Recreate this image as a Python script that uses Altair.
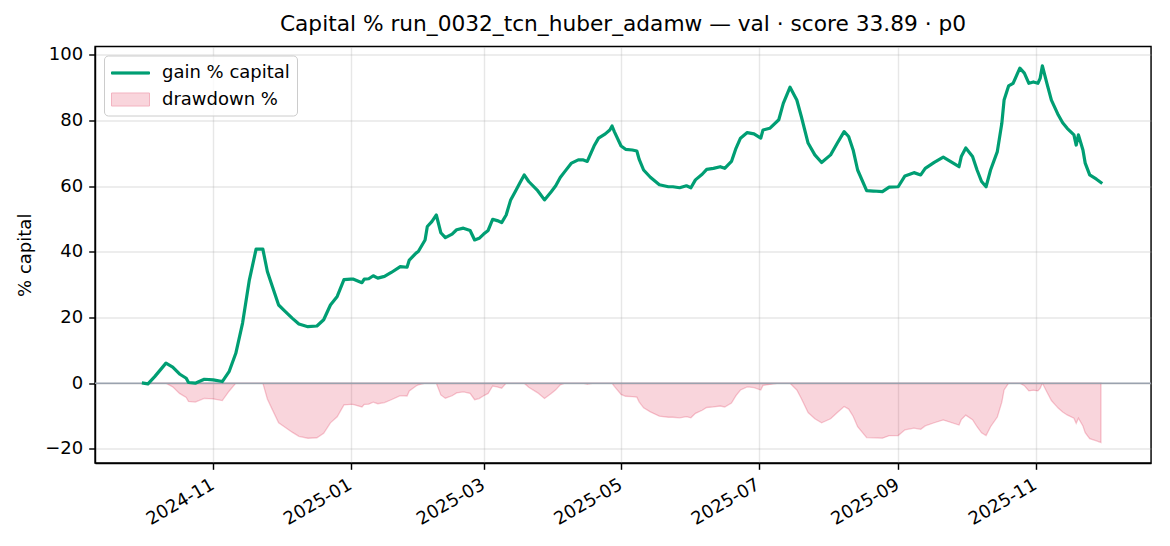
import altair as alt
import pandas as pd

dates = [
    "2024-10-01", "2024-10-03", "2024-10-06", "2024-10-11", "2024-10-14", "2024-10-17",
    "2024-10-20", "2024-10-21", "2024-10-24", "2024-10-28", "2024-11-01", "2024-11-05",
    "2024-11-08", "2024-11-11", "2024-11-14", "2024-11-17", "2024-11-20", "2024-11-23",
    "2024-11-25", "2024-11-27", "2024-11-30", "2024-12-03", "2024-12-06", "2024-12-09",
    "2024-12-13", "2024-12-17", "2024-12-20", "2024-12-23", "2024-12-26", "2024-12-29",
    "2025-01-01", "2025-01-02", "2025-01-06", "2025-01-07", "2025-01-09", "2025-01-11",
    "2025-01-13", "2025-01-16", "2025-01-19", "2025-01-23", "2025-01-26", "2025-01-27",
    "2025-01-30", "2025-01-31", "2025-02-03", "2025-02-04", "2025-02-06", "2025-02-08",
    "2025-02-10", "2025-02-12", "2025-02-15", "2025-02-17", "2025-02-20", "2025-02-23",
    "2025-02-25", "2025-02-27", "2025-03-01", "2025-03-03", "2025-03-05", "2025-03-07",
    "2025-03-09", "2025-03-11", "2025-03-13", "2025-03-15", "2025-03-17", "2025-03-19",
    "2025-03-21", "2025-03-25", "2025-03-28", "2025-03-31", "2025-04-02", "2025-04-04",
    "2025-04-06", "2025-04-09", "2025-04-12", "2025-04-14", "2025-04-16", "2025-04-19",
    "2025-04-21", "2025-04-24", "2025-04-26", "2025-04-27", "2025-04-28", "2025-05-01",
    "2025-05-03", "2025-05-06", "2025-05-08", "2025-05-09", "2025-05-11", "2025-05-14",
    "2025-05-18", "2025-05-22", "2025-05-24", "2025-05-27", "2025-05-30", "2025-06-01",
    "2025-06-03", "2025-06-06", "2025-06-08", "2025-06-11", "2025-06-14", "2025-06-16",
    "2025-06-19", "2025-06-21", "2025-06-23", "2025-06-26", "2025-06-29", "2025-07-02",
    "2025-07-03", "2025-07-06", "2025-07-10", "2025-07-12", "2025-07-15", "2025-07-18",
    "2025-07-20", "2025-07-23", "2025-07-26", "2025-07-29", "2025-08-02", "2025-08-05",
    "2025-08-08", "2025-08-10", "2025-08-12", "2025-08-14", "2025-08-18", "2025-08-21",
    "2025-08-25", "2025-08-28", "2025-09-01", "2025-09-04", "2025-09-08", "2025-09-11",
    "2025-09-13", "2025-09-17", "2025-09-21", "2025-09-28", "2025-09-29", "2025-10-01",
    "2025-10-04", "2025-10-06", "2025-10-08", "2025-10-10", "2025-10-12", "2025-10-15",
    "2025-10-17", "2025-10-18", "2025-10-20", "2025-10-22", "2025-10-24", "2025-10-25",
    "2025-10-27", "2025-10-29", "2025-10-31", "2025-11-02", "2025-11-03", "2025-11-04",
    "2025-11-06", "2025-11-08", "2025-11-10", "2025-11-11", "2025-11-13", "2025-11-15",
    "2025-11-18", "2025-11-19", "2025-11-20", "2025-11-22", "2025-11-23", "2025-11-25",
    "2025-11-28", "2025-11-30",
]

gain = [
    0.0, -0.2, 2.0, 6.1, 4.9, 2.8,
    1.5, 0.2, 0.0, 1.2, 1.0, 0.5,
    3.5, 9.1, 18.3, 31.4, 40.8, 40.8,
    34.0, 29.9, 23.8, 21.8, 19.8, 18.0,
    17.2, 17.4, 19.3, 23.8, 26.4, 31.5,
    31.7, 31.7, 30.6, 31.7, 31.8, 32.7,
    32.0, 32.5, 33.7, 35.5, 35.3, 37.5,
    39.6, 40.1, 43.6, 47.7, 49.2, 51.2,
    45.8, 44.3, 45.4, 46.7, 47.2, 46.5,
    43.6, 44.1, 45.4, 46.5, 49.9, 49.5,
    48.9, 51.2, 55.8, 58.3, 60.9, 63.4,
    61.4, 58.6, 55.8, 58.3, 60.1, 62.6,
    64.4, 67.0, 68.0, 68.0, 67.5, 72.2,
    74.6, 75.9, 77.1, 78.3, 76.6, 72.2,
    71.2, 71.0, 70.7, 68.2, 64.9, 62.7,
    60.4, 59.8, 59.8, 59.5, 60.1, 59.5,
    61.9, 63.6, 65.1, 65.4, 65.9, 65.4,
    67.5, 71.5, 74.6, 76.3, 75.9, 74.6,
    77.1, 77.6, 80.2, 85.2, 90.1, 86.2,
    81.2, 73.1, 69.5, 67.2, 69.5, 73.1,
    76.6, 75.1, 71.0, 64.9, 58.6, 58.5,
    58.3, 59.7, 59.8, 63.1, 64.1, 63.4,
    65.4, 67.2, 68.8, 65.9, 69.0, 71.6,
    69.0, 64.9, 61.4, 59.8, 64.9, 70.5,
    79.1, 86.2, 90.5, 91.3, 94.4, 95.9,
    94.4, 91.3, 91.7, 91.3, 92.8, 96.6,
    91.3, 86.2, 83.2, 81.7, 79.3, 77.6,
    75.6, 72.5, 75.6, 71.0, 67.0, 63.4,
    62.1, 61.1,
]

series_names = ["gain % capital", "drawdown %"]
legend_fill = ["#009e73", "#f9d5dc"]
legend_stroke = ["#009e73", "#f3b3c0"]
legend_shapes = ["M-1.9,-0.11H1.9V0.11H-1.9Z", "M-1.9,-0.65H1.9V0.65H-1.9Z"]
y_ticks = [-20, 0, 20, 40, 60, 80, 100]
x_tick_months = [(2024, 11), (2025, 1), (2025, 3), (2025, 5), (2025, 7), (2025, 9), (2025, 11)]
title_text = "Capital % run_0032_tcn_huber_adamw \u2014 val \u00b7 score 33.89 \u00b7 p0"

df = pd.DataFrame({"date": dates, "gain": gain})
zero_df = pd.DataFrame({"y": [0]})
legend_df = pd.DataFrame({"series": series_names})

FONT = "DejaVu Sans"
GREEN = "#009e73"
CRIMSON = "#dc143c"

x_scale = alt.Scale(
    type="utc",
    domain=[
        alt.DateTime(year=2024, month=9, date=9, hours=12, utc=True),
        alt.DateTime(year=2025, month=12, date=22, hours=5, utc=True),
    ],
)
y_scale = alt.Scale(domain=[-24.3, 102.5], nice=False, zero=False)

x_axis = alt.Axis(
    values=[alt.DateTime(year=y, month=m, date=1, utc=True) for y, m in x_tick_months],
    format="%Y-%m",
    labelAngle=-30,
    labelAlign="right",
    labelBaseline="top",
    labelOffset=-5,
    title=None,
)
y_axis = alt.Axis(values=y_ticks, format="d", title="% capital", titlePadding=10)

legend = alt.Legend(
    title=None,
    orient="top-left",
    offset=9,
    padding=7,
    fillColor="rgba(255,255,255,0.8)",
    strokeColor="#cccccc",
    cornerRadius=4,
    labelFontSize=18,
    labelFont=FONT,
    labelColor="black",
    symbolSize=400,
    symbolOffset=9,
    symbolOpacity=1,
    symbolStrokeWidth=1,
    labelOffset=21,
    rowPadding=6.5,
)

base = alt.Chart(df).transform_calculate(
    eq="1 + datum.gain / 100"
).transform_window(
    peak="max(eq)", frame=[None, 0], sort=[alt.SortField("date")]
)

area = base.transform_calculate(
    dd="(datum.eq / datum.peak - 1) * 100"
).mark_area(
    fill=CRIMSON, fillOpacity=0.18, stroke=CRIMSON, strokeOpacity=0.22, strokeWidth=1.3
).encode(
    x=alt.X("date:T", scale=x_scale, axis=x_axis),
    y=alt.Y("dd:Q", scale=y_scale, axis=y_axis),
    y2=alt.Y2(datum=0),
)

zero = alt.Chart(zero_df).mark_rule(color="#9aa2ae", strokeWidth=1.4).encode(
    y=alt.Y("y:Q", scale=y_scale)
)

line = base.mark_line(
    color=GREEN, strokeWidth=3.2, strokeJoin="round", strokeCap="square"
).encode(
    x=alt.X("date:T", scale=x_scale, axis=x_axis),
    y=alt.Y("gain:Q", scale=y_scale, axis=y_axis),
)

legend_layer = alt.Chart(legend_df).mark_point(filled=True, opacity=0).encode(
    fill=alt.Fill("series:N", scale=alt.Scale(domain=series_names, range=legend_fill), legend=legend),
    stroke=alt.Stroke("series:N", scale=alt.Scale(domain=series_names, range=legend_stroke), legend=legend),
    shape=alt.Shape("series:N", scale=alt.Scale(domain=series_names, range=legend_shapes), legend=legend),
)

chart = alt.layer(area, zero, line, legend_layer).properties(
    width=1056,
    height=416.5,
    autosize=alt.AutoSizeParams(type="none"),
    padding={"left": 87, "top": 38.5, "right": 11, "bottom": 75},
    title=alt.TitleParams(
        text=title_text, font=FONT, fontSize=21.7, fontWeight="normal",
        color="black", offset=10, anchor="middle",
    ),
).resolve_scale(
    fill="independent", stroke="independent", shape="independent"
).configure(
    font=FONT,
).configure_view(
    stroke="black", strokeWidth=1.44,
).configure_axis(
    labelFont=FONT, labelFontSize=18, labelColor="black", labelPadding=6,
    titleFont=FONT, titleFontSize=18, titleFontWeight="normal", titleColor="black",
    domainColor="black", domainWidth=1.44,
    tickColor="black", tickWidth=1.44, tickSize=6.3,
    gridColor="#b0b0b0", gridOpacity=0.3, gridWidth=1.4,
)

chart.save("out.html", embed_options={"renderer": "svg", "actions": False})
